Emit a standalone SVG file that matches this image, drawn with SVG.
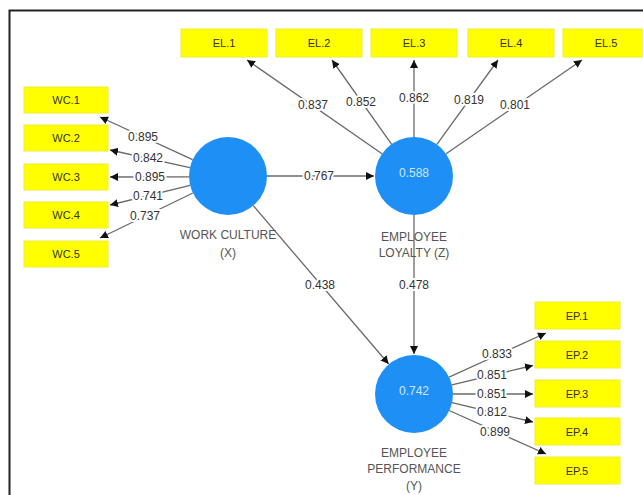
<svg xmlns="http://www.w3.org/2000/svg" width="643" height="495" viewBox="0 0 643 495">
<style>
.box{fill:#ffff00;stroke:#eeee30;stroke-width:1}
.bt{font-family:"Liberation Sans",Arial,sans-serif;font-size:11px;fill:#333;text-anchor:middle}
.lv{fill:#1e90f5}
.lvt{font-family:"Liberation Sans",Arial,sans-serif;font-size:12px;fill:#cfe6ff;text-anchor:middle}
.nl{font-family:"Liberation Sans",Arial,sans-serif;font-size:12px;fill:#555;text-anchor:middle}
.ln{stroke:#6a6a6a;stroke-width:1.3;fill:none;marker-end:url(#ah)}
.num{font-family:"Liberation Sans",Arial,sans-serif;font-size:12px;fill:#333;text-anchor:middle;stroke:#fff;stroke-width:4;paint-order:stroke;stroke-linejoin:round}
</style>
<defs>
<marker id="ah" markerUnits="userSpaceOnUse" markerWidth="9" markerHeight="9" refX="8" refY="4" orient="auto">
<path d="M0,0 L8,4 L0,8 z" fill="#111"/>
</marker>
</defs>
<rect width="643" height="495" fill="#fff"/>
<path d="M9.5 495 V10.5 H643" fill="none" stroke="#222" stroke-width="2"/>

<g id="connectors">
<line class="ln" x1="192.6" y1="159.7" x2="100" y2="117"/>
<line class="ln" x1="189.9" y1="167.6" x2="110" y2="150"/>
<line class="ln" x1="189" y1="176.8" x2="110" y2="177"/>
<line class="ln" x1="190.1" y1="185.3" x2="110" y2="205"/>
<line class="ln" x1="192.9" y1="193" x2="100" y2="238"/>
<line class="ln" x1="382" y1="153.7" x2="247" y2="60"/>
<line class="ln" x1="391.5" y1="144.1" x2="332" y2="60"/>
<line class="ln" x1="414" y1="137" x2="414" y2="60"/>
<line class="ln" x1="436.9" y1="144.4" x2="498" y2="60"/>
<line class="ln" x1="446.1" y1="153.8" x2="582" y2="60"/>
<line class="ln" x1="449.1" y1="377.1" x2="546" y2="333"/>
<line class="ln" x1="451.9" y1="384.8" x2="533" y2="365.5"/>
<line class="ln" x1="453" y1="394" x2="533" y2="394"/>
<line class="ln" x1="452" y1="402.7" x2="533" y2="422"/>
<line class="ln" x1="449.2" y1="410.5" x2="546" y2="454"/>
<line class="ln" x1="267" y1="176" x2="374" y2="176"/>
<line class="ln" x1="253.3" y1="205.7" x2="388.7" y2="364"/>
<line class="ln" x1="414" y1="215" x2="414" y2="354"/>
<text class="num" x="143" y="141">0.895</text>
<text class="num" x="148" y="162">0.842</text>
<text class="num" x="150" y="181">0.895</text>
<text class="num" x="148" y="200">0.741</text>
<text class="num" x="145" y="220">0.737</text>
<text class="num" x="313" y="109">0.837</text>
<text class="num" x="361" y="106">0.852</text>
<text class="num" x="414" y="102">0.862</text>
<text class="num" x="469" y="104">0.819</text>
<text class="num" x="515" y="109">0.801</text>
<text class="num" x="319" y="180">0.767</text>
<text class="num" x="320" y="289">0.438</text>
<text class="num" x="414" y="289">0.478</text>
<text class="num" x="497" y="358">0.833</text>
<text class="num" x="492" y="379">0.851</text>
<text class="num" x="492" y="398">0.851</text>
<text class="num" x="492" y="416">0.812</text>
<text class="num" x="495" y="436">0.899</text>
</g>

<g id="WC1"><rect class="box" x="24" y="87" width="84" height="26"/><text class="bt" x="66" y="104">WC.1</text></g>
<g id="WC2"><rect class="box" x="24" y="125" width="84" height="26"/><text class="bt" x="66" y="142">WC.2</text></g>
<g id="WC3"><rect class="box" x="24" y="164" width="84" height="26"/><text class="bt" x="66" y="181">WC.3</text></g>
<g id="WC4"><rect class="box" x="24" y="202" width="84" height="26"/><text class="bt" x="66" y="219">WC.4</text></g>
<g id="WC5"><rect class="box" x="24" y="241" width="84" height="26"/><text class="bt" x="66" y="258">WC.5</text></g>

<g id="EL1"><rect class="box" x="181" y="29" width="86" height="28"/><text class="bt" x="224" y="47">EL.1</text></g>
<g id="EL2"><rect class="box" x="276" y="29" width="86" height="28"/><text class="bt" x="319" y="47">EL.2</text></g>
<g id="EL3"><rect class="box" x="371" y="29" width="86" height="28"/><text class="bt" x="414" y="47">EL.3</text></g>
<g id="EL4"><rect class="box" x="468" y="29" width="86" height="28"/><text class="bt" x="511" y="47">EL.4</text></g>
<g id="EL5"><rect class="box" x="563" y="29" width="86" height="28"/><text class="bt" x="606" y="47">EL.5</text></g>

<g id="EP1"><rect class="box" x="535" y="302" width="85" height="27"/><text class="bt" x="577" y="320">EP.1</text></g>
<g id="EP2"><rect class="box" x="535" y="341" width="85" height="27"/><text class="bt" x="577" y="359">EP.2</text></g>
<g id="EP3"><rect class="box" x="535" y="380" width="85" height="27"/><text class="bt" x="577" y="398">EP.3</text></g>
<g id="EP4"><rect class="box" x="535" y="418" width="85" height="27"/><text class="bt" x="577" y="436">EP.4</text></g>
<g id="EP5"><rect class="box" x="535" y="457" width="85" height="27"/><text class="bt" x="577" y="475">EP.5</text></g>

<g id="WorkCulture"><circle class="lv" cx="228" cy="176" r="39"/><text class="nl" x="228" y="239">WORK CULTURE</text><text class="nl" x="228" y="257">(X)</text></g>
<g id="EmployeeLoyalty"><circle class="lv" cx="414" cy="176" r="39"/><text class="lvt" x="414" y="177">0.588</text><text class="nl" x="414" y="241">EMPLOYEE</text><text class="nl" x="414" y="257">LOYALTY (Z)</text></g>
<g id="EmployeePerformance"><circle class="lv" cx="414" cy="394" r="39"/><text class="lvt" x="414" y="395">0.742</text><text class="nl" x="414" y="457">EMPLOYEE</text><text class="nl" x="414" y="473">PERFORMANCE</text><text class="nl" x="414" y="490">(Y)</text></g>
</svg>
